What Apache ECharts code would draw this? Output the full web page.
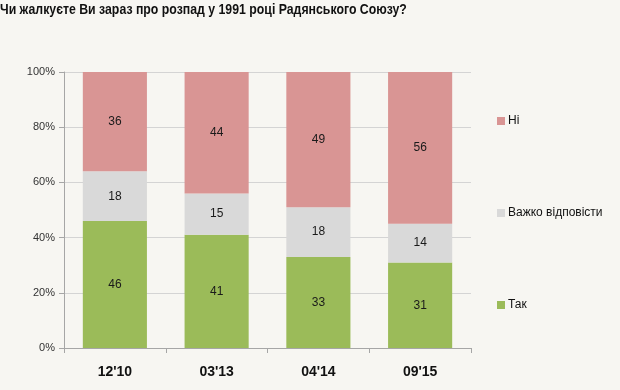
<!DOCTYPE html>
<html><head><meta charset="utf-8">
<script src="https://cdn.jsdelivr.net/npm/echarts@6/dist/echarts.min.js"></script>
<style>html,body{margin:0;padding:0;background:#f7f6f2;}#c{width:620px;height:390px;}</style>
</head><body><div id="c"></div>
<script>
const categories = ["12'10", "03'13", "04'14", "09'15"];
const tak = [46, 41, 33, 31];
const vazhko = [18, 15, 18, 14];
const ni = [36, 44, 49, 56];
const yTicks = [0, 20, 40, 60, 80, 100];
const titleText = 'Чи жалкуєте Ви зараз про розпад у 1991 році Радянського Союзу?';

const FONT = '"Liberation Sans", Arial, sans-serif';
const chart = echarts.init(document.getElementById('c'));
const lbl = {show: true, position: 'inside', color: '#1a1a1a', fontSize: 12, fontFamily: FONT};
chart.setOption({
  backgroundColor: '#f7f6f2',
  animation: false,
  graphic: [{type: 'text', x: 0, y: 2, scaleX: 0.82, scaleY: 1,
    style: {text: titleText, fontSize: 15, fontWeight: 'bold', fontFamily: FONT, fill: '#111',
      verticalAlign: 'top', align: 'left'}}],
  grid: {left: 64, right: 149, top: 72, bottom: 42},
  legend: {orient: 'vertical', left: 492, top: 110, itemWidth: 8, itemHeight: 8, itemGap: 80,
    icon: 'rect', data: ['Ні', 'Важко відповісти', 'Так'],
    textStyle: {fontSize: 12, color: '#111', fontFamily: FONT, padding: [0, 0, 0, -2]}},
  xAxis: {type: 'category', data: categories,
    axisLine: {lineStyle: {color: '#a6a6a6'}},
    axisTick: {show: true, length: 5, lineStyle: {color: '#a6a6a6'}},
    axisLabel: {fontSize: 14, fontWeight: 'bold', color: '#111', margin: 17, fontFamily: FONT}},
  yAxis: {type: 'value', min: 0, max: 100, interval: 20,
    axisLine: {show: true, lineStyle: {color: '#a6a6a6'}},
    axisTick: {show: true, length: 5, lineStyle: {color: '#a6a6a6'}},
    splitLine: {lineStyle: {color: '#d4d4d4'}},
    axisLabel: {fontSize: 11, color: '#333', margin: 9, fontFamily: FONT,
      formatter: v => yTicks.includes(v) ? v + '%' : ''}},
  series: [
    {name: 'Так', type: 'bar', stack: 's', data: tak, barWidth: '63%', itemStyle: {color: '#9bbb59'}, label: lbl},
    {name: 'Важко відповісти', type: 'bar', stack: 's', data: vazhko, itemStyle: {color: '#d9d9d9'}, label: lbl},
    {name: 'Ні', type: 'bar', stack: 's', data: ni, itemStyle: {color: '#d99594'}, label: lbl}
  ]
});
</script></body></html>
